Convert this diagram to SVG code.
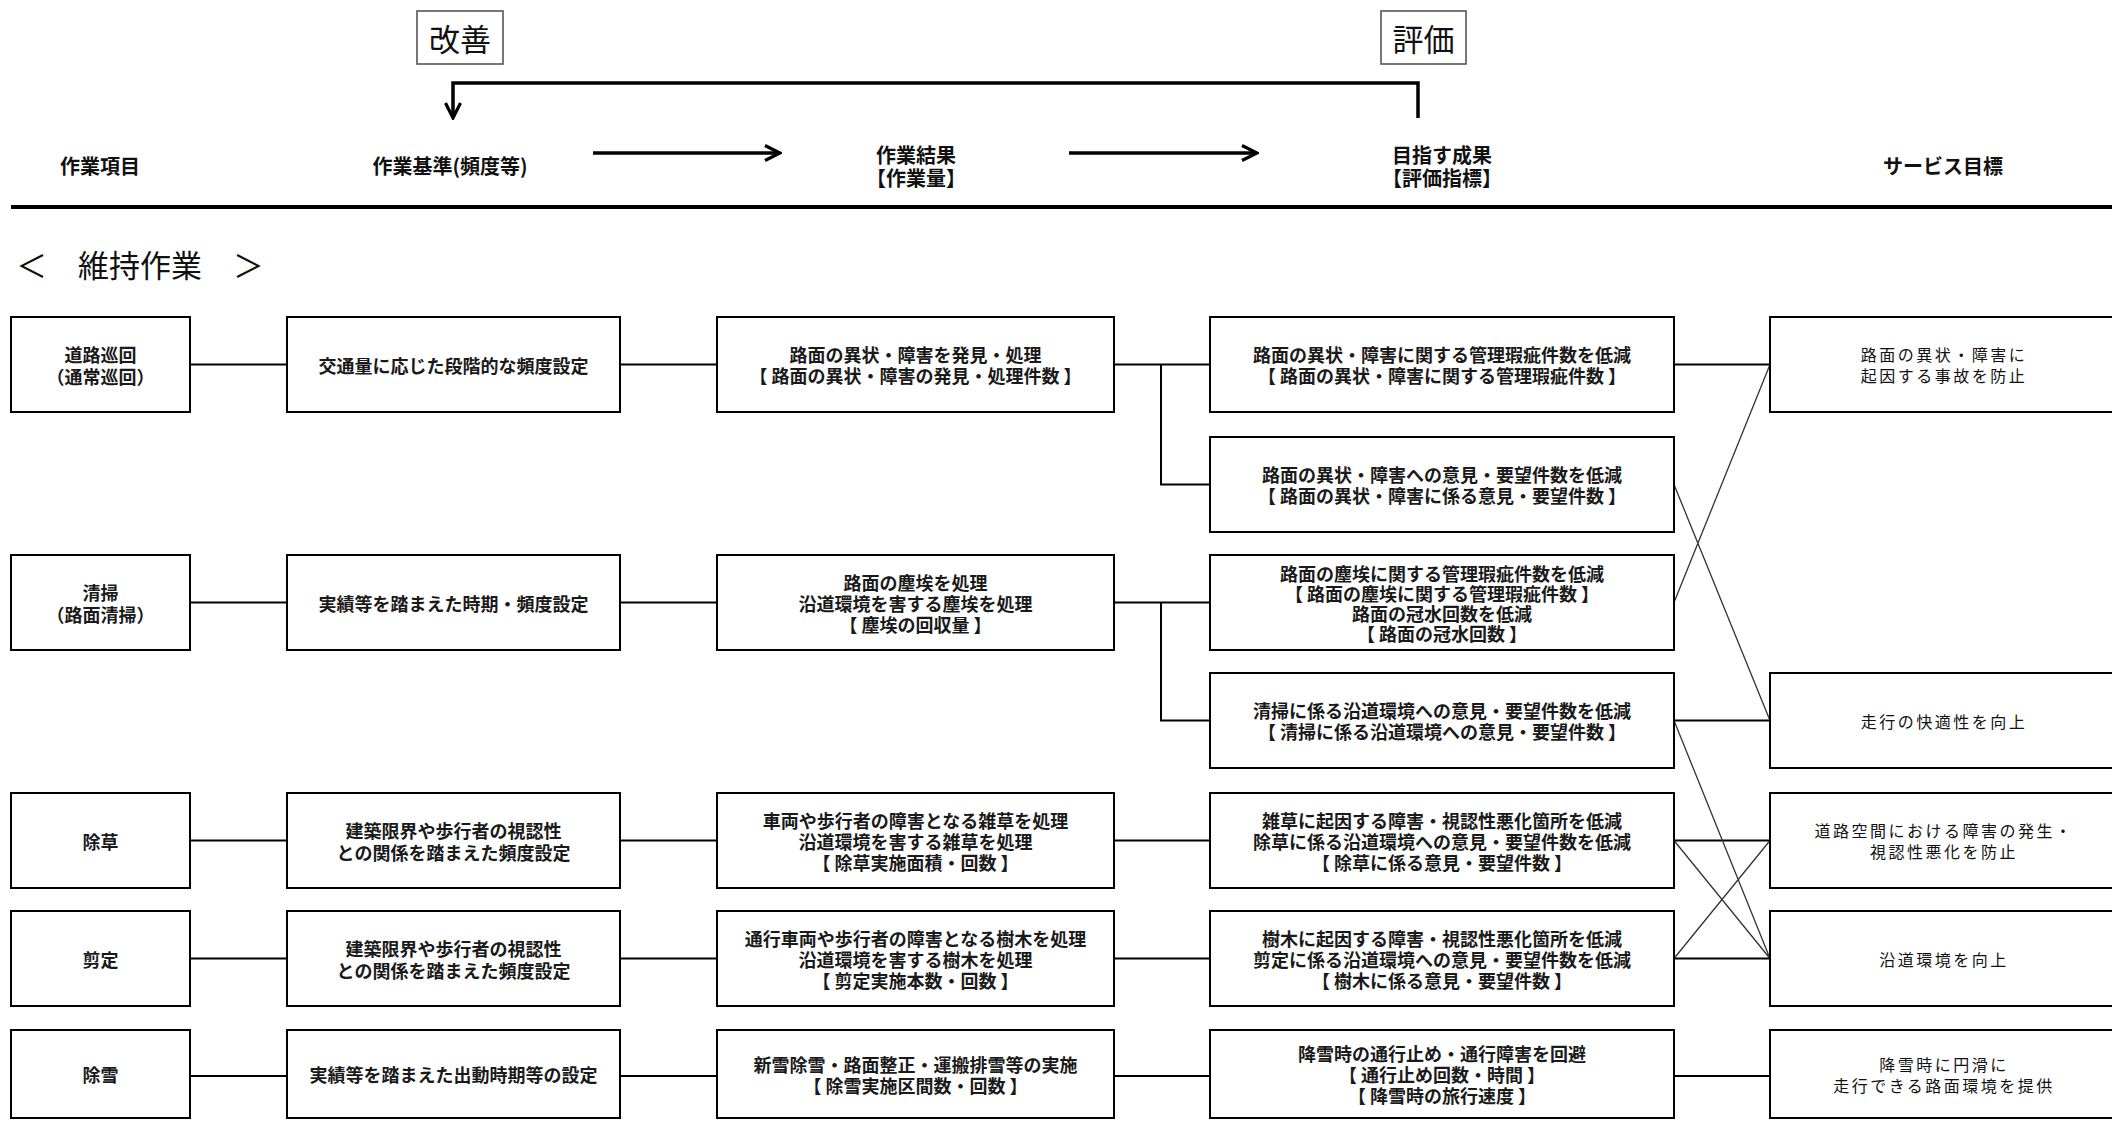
<svg xmlns="http://www.w3.org/2000/svg" width="2112" height="1121" viewBox="0 0 2112 1121">
<defs>
<marker id="chev" markerUnits="userSpaceOnUse" viewBox="0 0 18 18" markerWidth="18" markerHeight="18" refX="16" refY="9" orient="auto">
<path d="M1,1.5 L16,9 L1,16.5" fill="none" stroke="#000" stroke-width="3.2"/>
</marker>
</defs>
<style>
.box{fill:#fff;stroke:#000;stroke-width:2}
.tag{fill:#fff;stroke:#555;stroke-width:1.6}
.t{font-family:"Noto Sans CJK JP","Noto Sans CJK SC",sans-serif;font-size:18px;font-weight:bold;fill:#1a1a1a;text-anchor:middle;dominant-baseline:central}
.t5{font-family:"Noto Sans CJK JP","Noto Sans CJK SC",sans-serif;font-size:16px;font-weight:normal;letter-spacing:2.5px;fill:#111;text-anchor:middle;dominant-baseline:central}
.h{font-family:"Noto Sans CJK JP","Noto Sans CJK SC",sans-serif;font-size:20px;font-weight:bold;fill:#111;text-anchor:middle;dominant-baseline:central}
.big{font-family:"Noto Sans CJK JP","Noto Sans CJK SC",sans-serif;font-size:31px;font-weight:normal;fill:#111;dominant-baseline:central}
.c{fill:none;stroke:#000;stroke-width:2}
.d{fill:none;stroke:#333;stroke-width:1.3}
.a{fill:none;stroke:#000;stroke-width:3.5}
</style>

<g id="header">
<g id="kaizen"><rect class="tag" x="417" y="11" width="86" height="53"/><text class="big" x="460" y="37.5" text-anchor="middle">改善</text></g>
<g id="hyoka"><rect class="tag" x="1381" y="11" width="85" height="53"/><text class="big" x="1423.5" y="37.5" text-anchor="middle">評価</text></g>
<text class="h" x="100" y="165">作業項目</text>
<text class="h" x="450" y="165">作業基準(頻度等)</text>
<text class="h"><tspan x="916" y="154">作業結果</tspan><tspan x="916" y="177">【作業量】</tspan></text>
<text class="h"><tspan x="1442" y="154">目指す成果</tspan><tspan x="1442" y="177">【評価指標】</tspan></text>
<text class="h" x="1943" y="165">サービス目標</text>
<line x1="11" y1="207" x2="2112" y2="207" stroke="#000" stroke-width="4"/>
<text class="big" x="16" y="263">＜　維持作業　＞</text>
</g>

<g id="connectors">
<path class="a" d="M1418,118 V83 H453 V118" marker-end="url(#chev)"/>
<line class="a" x1="593" y1="153" x2="780" y2="153" marker-end="url(#chev)"/>
<line class="a" x1="1069" y1="153" x2="1257" y2="153" marker-end="url(#chev)"/>

<path class="c" d="M190,364.5 H287 M620,364.5 H717 M1114,364.5 H1210 M1161,364.5 V484.5 H1210"/>
<path class="c" d="M190,602.5 H287 M620,602.5 H717 M1114,602.5 H1210 M1161,602.5 V720.5 H1210"/>
<path class="c" d="M190,840.5 H287 M620,840.5 H717 M1114,840.5 H1210"/>
<path class="c" d="M190,958.5 H287 M620,958.5 H717 M1114,958.5 H1210"/>
<path class="c" d="M190,1076 H287 M620,1076 H717 M1114,1076 H1210"/>

<path class="c" d="M1674,364.5 H1770 M1674,720.5 H1770 M1674,840.5 H1770 M1674,958.5 H1770 M1674,1076 H1770"/>
<path class="d" d="M1674,602.5 L1770,364.5 M1674,484.5 L1770,720.5 M1674,720.5 L1770,958.5 M1674,840.5 L1770,958.5 M1674,958.5 L1770,840.5"/>
</g>

<g id="n-junkai"><rect class="box" x="11" y="317" width="179" height="95"/><text class="t"><tspan x="100.5" y="353.5">道路巡回</tspan><tspan x="100.5" y="375.5">（通常巡回）</tspan></text></g>
<g id="n-seiso"><rect class="box" x="11" y="555" width="179" height="95"/><text class="t"><tspan x="100.5" y="591.5">清掃</tspan><tspan x="100.5" y="613.5">（路面清掃）</tspan></text></g>
<g id="n-josou"><rect class="box" x="11" y="793" width="179" height="95"/><text class="t" x="100.5" y="840.5">除草</text></g>
<g id="n-sentei"><rect class="box" x="11" y="911" width="179" height="95"/><text class="t" x="100.5" y="958.5">剪定</text></g>
<g id="n-josetsu"><rect class="box" x="11" y="1030" width="179" height="88"/><text class="t" x="100.5" y="1074">除雪</text></g>

<g id="s-junkai"><rect class="box" x="287" y="317" width="333" height="95"/><text class="t" x="453.5" y="364.5">交通量に応じた段階的な頻度設定</text></g>
<g id="s-seiso"><rect class="box" x="287" y="555" width="333" height="95"/><text class="t" x="453.5" y="602.5">実績等を踏まえた時期・頻度設定</text></g>
<g id="s-josou"><rect class="box" x="287" y="793" width="333" height="95"/><text class="t"><tspan x="453.5" y="829.5">建築限界や歩行者の視認性</tspan><tspan x="453.5" y="851.5">との関係を踏まえた頻度設定</tspan></text></g>
<g id="s-sentei"><rect class="box" x="287" y="911" width="333" height="95"/><text class="t"><tspan x="453.5" y="947.5">建築限界や歩行者の視認性</tspan><tspan x="453.5" y="969.5">との関係を踏まえた頻度設定</tspan></text></g>
<g id="s-josetsu"><rect class="box" x="287" y="1030" width="333" height="88"/><text class="t" x="453.5" y="1074">実績等を踏まえた出動時期等の設定</text></g>

<g id="r-junkai"><rect class="box" x="717" y="317" width="397" height="95"/><text class="t"><tspan x="915.5" y="354">路面の異状・障害を発見・処理</tspan><tspan x="915.5" y="375">【 路面の異状・障害の発見・処理件数 】</tspan></text></g>
<g id="r-seiso"><rect class="box" x="717" y="555" width="397" height="95"/><text class="t"><tspan x="915.5" y="581.5">路面の塵埃を処理</tspan><tspan x="915.5" y="602.5">沿道環境を害する塵埃を処理</tspan><tspan x="915.5" y="623.5">【 塵埃の回収量 】</tspan></text></g>
<g id="r-josou"><rect class="box" x="717" y="793" width="397" height="95"/><text class="t"><tspan x="915.5" y="819.5">車両や歩行者の障害となる雑草を処理</tspan><tspan x="915.5" y="840.5">沿道環境を害する雑草を処理</tspan><tspan x="915.5" y="861.5">【 除草実施面積・回数 】</tspan></text></g>
<g id="r-sentei"><rect class="box" x="717" y="911" width="397" height="95"/><text class="t"><tspan x="915.5" y="937.5">通行車両や歩行者の障害となる樹木を処理</tspan><tspan x="915.5" y="958.5">沿道環境を害する樹木を処理</tspan><tspan x="915.5" y="979.5">【 剪定実施本数・回数 】</tspan></text></g>
<g id="r-josetsu"><rect class="box" x="717" y="1030" width="397" height="88"/><text class="t"><tspan x="915.5" y="1063.5">新雪除雪・路面整正・運搬排雪等の実施</tspan><tspan x="915.5" y="1084.5">【 除雪実施区間数・回数 】</tspan></text></g>

<g id="o-b1"><rect class="box" x="1210" y="317" width="464" height="95"/><text class="t"><tspan x="1442" y="354">路面の異状・障害に関する管理瑕疵件数を低減</tspan><tspan x="1442" y="375">【 路面の異状・障害に関する管理瑕疵件数 】</tspan></text></g>
<g id="o-b2"><rect class="box" x="1210" y="437" width="464" height="95"/><text class="t"><tspan x="1442" y="474">路面の異状・障害への意見・要望件数を低減</tspan><tspan x="1442" y="495">【 路面の異状・障害に係る意見・要望件数 】</tspan></text></g>
<g id="o-b3"><rect class="box" x="1210" y="555" width="464" height="95"/><text class="t"><tspan x="1442" y="572.5">路面の塵埃に関する管理瑕疵件数を低減</tspan><tspan x="1442" y="592.5">【 路面の塵埃に関する管理瑕疵件数 】</tspan><tspan x="1442" y="612.5">路面の冠水回数を低減</tspan><tspan x="1442" y="632.5">【 路面の冠水回数 】</tspan></text></g>
<g id="o-b4"><rect class="box" x="1210" y="673" width="464" height="95"/><text class="t"><tspan x="1442" y="710">清掃に係る沿道環境への意見・要望件数を低減</tspan><tspan x="1442" y="731">【 清掃に係る沿道環境への意見・要望件数 】</tspan></text></g>
<g id="o-b5"><rect class="box" x="1210" y="793" width="464" height="95"/><text class="t"><tspan x="1442" y="819.5">雑草に起因する障害・視認性悪化箇所を低減</tspan><tspan x="1442" y="840.5">除草に係る沿道環境への意見・要望件数を低減</tspan><tspan x="1442" y="861.5">【 除草に係る意見・要望件数 】</tspan></text></g>
<g id="o-b6"><rect class="box" x="1210" y="911" width="464" height="95"/><text class="t"><tspan x="1442" y="937.5">樹木に起因する障害・視認性悪化箇所を低減</tspan><tspan x="1442" y="958.5">剪定に係る沿道環境への意見・要望件数を低減</tspan><tspan x="1442" y="979.5">【 樹木に係る意見・要望件数 】</tspan></text></g>
<g id="o-b7"><rect class="box" x="1210" y="1030" width="464" height="88"/><text class="t"><tspan x="1442" y="1053">降雪時の通行止め・通行障害を回避</tspan><tspan x="1442" y="1074">【 通行止め回数・時間 】</tspan><tspan x="1442" y="1095">【 降雪時の旅行速度 】</tspan></text></g>

<g id="g-s1"><rect class="box" x="1770" y="317" width="346" height="95"/><text class="t5"><tspan x="1944" y="354">路面の異状・障害に</tspan><tspan x="1944" y="375">起因する事故を防止</tspan></text></g>
<g id="g-s2"><rect class="box" x="1770" y="673" width="346" height="95"/><text class="t5" x="1944" y="720.5">走行の快適性を向上</text></g>
<g id="g-s3"><rect class="box" x="1770" y="793" width="346" height="95"/><text class="t5"><tspan x="1944" y="830">道路空間における障害の発生・</tspan><tspan x="1944" y="851">視認性悪化を防止</tspan></text></g>
<g id="g-s4"><rect class="box" x="1770" y="911" width="346" height="95"/><text class="t5" x="1944" y="958.5">沿道環境を向上</text></g>
<g id="g-s5"><rect class="box" x="1770" y="1030" width="346" height="88"/><text class="t5"><tspan x="1944" y="1063.5">降雪時に円滑に</tspan><tspan x="1944" y="1084.5">走行できる路面環境を提供</tspan></text></g>
</svg>
